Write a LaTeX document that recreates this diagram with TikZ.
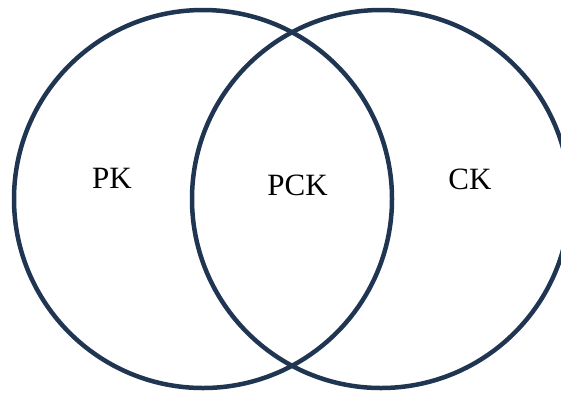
\documentclass[tikz,border=0pt]{standalone}
\usepackage{fontspec}
\setmainfont{Liberation Serif}
\definecolor{navy}{RGB}{31,53,82}
\begin{document}
\begin{tikzpicture}[x=1pt,y=-1pt,
  ring/.style={circle, draw=navy, line width=4.5pt, minimum size=378pt, inner sep=0pt},
  label/.style={font=\fontsize{31}{36}\selectfont, text=black, inner sep=0pt}]
  \useasboundingbox (0,0) rectangle (561,392);
  \clip (0,0) rectangle (561,392);
  \node[ring] (left) at (203,199) {};
  \node[ring] (right) at (381,199) {};
  \node[label] (pk) at (112,178) {PK};
  \node[label] (pck) at (297.5,185.5) {PCK};
  \node[label] (ck) at (470,179) {CK};
\end{tikzpicture}
\end{document}
